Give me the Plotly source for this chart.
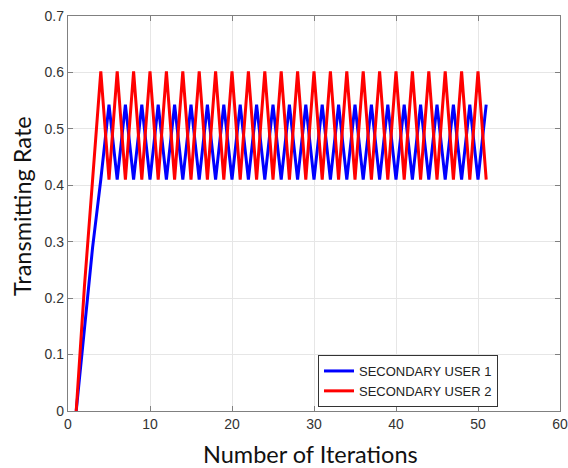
import plotly.graph_objects as go

iterations = list(range(1, 52))

# Secondary user 1: ramp then oscillate (peaks at odd iterations)
su1_ramp = [0.0, 0.15, 0.29, 0.41]
su1_peak, su1_trough = 0.543, 0.41
su1 = su1_ramp + [su1_peak if (i % 2 == 1) else su1_trough for i in range(5, 52)]

# Secondary user 2: ramp then oscillate (peaks at even iterations)
su2_ramp = [0.0, 0.22, 0.41]
su2_peak, su2_trough = 0.602, 0.41
su2 = su2_ramp + [su2_peak if (i % 2 == 0) else su2_trough for i in range(4, 52)]

x_ticks = [0, 10, 20, 30, 40, 50, 60]
y_ticks = [0, 0.1, 0.2, 0.3, 0.4, 0.5, 0.6, 0.7]

fig = go.Figure()
fig.add_trace(go.Scatter(x=iterations, y=su1, mode="lines", name="SECONDARY USER 1",
                         line=dict(color="#0000ff", width=3)))
fig.add_trace(go.Scatter(x=iterations, y=su2, mode="lines", name="SECONDARY USER 2",
                         line=dict(color="#ff0000", width=3)))

axis_common = dict(
    showline=True, linecolor="#808080", linewidth=1.3, mirror="ticks",
    ticks="inside", ticklen=5, tickcolor="#808080",
    showgrid=True, gridcolor="#e6e6e6", gridwidth=1, zeroline=False,
    automargin=False,
    tickfont=dict(family="Liberation Sans, Arial, sans-serif", size=14, color="#333333"),
)

L, T, R, B = 68, 16, 8, 57
PW, PH = 568 - L - R, 468 - T - B

fig.update_layout(
    width=568, height=468,
    margin=dict(l=L, r=R, t=T, b=B),
    paper_bgcolor="white", plot_bgcolor="white",
    showlegend=True,
    legend=dict(
        x=(318 - L) / PW, y=(411 - 355) / PH, xanchor="left", yanchor="top",
        bgcolor="white", bordercolor="#333333", borderwidth=1,
        font=dict(family="Liberation Sans, Arial, sans-serif", size=13, color="#222222"),
        tracegroupgap=0,
    ),
    xaxis=dict(range=[0, 60], tickvals=x_ticks, ticktext=[str(v) for v in x_ticks],
               **axis_common),
    yaxis=dict(range=[0, 0.7], tickvals=y_ticks, ticktext=[f"{v:g}" for v in y_ticks],
               **axis_common),
    annotations=[
        dict(text="Number of Iterations", xref="paper", yref="paper",
             x=(310 - L) / PW, y=(411 - 454) / PH,
             xanchor="center", yanchor="middle", showarrow=False,
             font=dict(family="Lato, Open Sans, sans-serif", size=23.5, color="#111111")),
        dict(text="Transmitting Rate", xref="paper", yref="paper",
             x=(22 - L) / PW, y=(411 - 206) / PH, textangle=-90,
             xanchor="center", yanchor="middle", showarrow=False,
             font=dict(family="Lato, Open Sans, sans-serif", size=23.5, color="#111111")),
    ],
)

fig.write_html(
    "out.html",
    config={"displayModeBar": False},
    post_script="document.body.style.margin='0';document.body.style.overflow='hidden';",
)
